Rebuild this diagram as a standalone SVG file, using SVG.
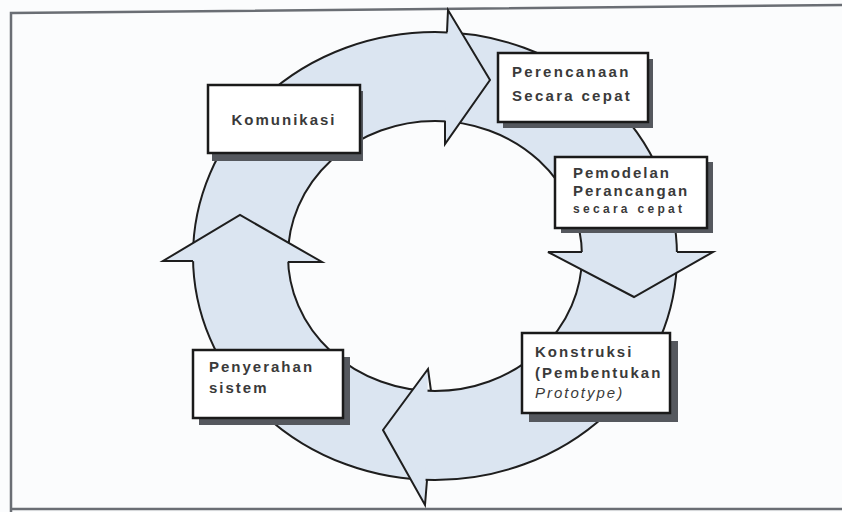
<svg xmlns="http://www.w3.org/2000/svg" width="842" height="512" viewBox="0 0 842 512">
<defs>
<style>
.bg{fill:#fbfcfd}
.frame{fill:none;stroke:#6a6e74;stroke-width:2.5}
.ring{fill:#dbe5f1;stroke:#1e1e1e;stroke-width:2;fill-rule:evenodd}
.head{fill:#dbe5f1;stroke:none}
.headline{fill:none;stroke:#1e1e1e;stroke-width:2;stroke-linejoin:miter}
.shadow{fill:#55585e}
.box{fill:#ffffff;stroke:#1a1a1a;stroke-width:2.5}
.t{font-family:"Liberation Sans",Arial,sans-serif;font-size:15px;font-weight:bold;fill:#3a3a3a;letter-spacing:2px}
.s{font-size:12px;letter-spacing:3.3px}
.i{font-style:italic;font-weight:normal}
</style>
</defs>
<rect class="bg" x="0" y="0" width="842" height="512"/>
<path class="frame" d="M11,512 L11,13 L842,5 M11,509 L842,509"/>
<g id="connectors">
<path class="ring" d="M193,256 A242,224 0 1 0 677,256 A242,224 0 1 0 193,256 Z M288,256 A147,135 0 1 0 582,256 A147,135 0 1 0 288,256 Z"/>
<polygon class="head" points="448,10 490,80 445,144"/>
<polyline class="headline" points="447,32 448,10 490,80 445,144 445,121"/>
<polygon class="head" points="548,252 634,297 713,252"/>
<polyline class="headline" points="582,252 548,252 634,297 713,252 677,252"/>
<polygon class="head" points="428,369 383,430 425,505"/>
<polyline class="headline" points="431,391 428,369 383,430 425,505 427,480"/>
<polygon class="head" points="163,261 240,215 322,262"/>
<polyline class="headline" points="193,261 163,261 240,215 322,262 288,262"/>
</g>
<g id="komunikasi">
<rect class="shadow" x="212" y="91" width="151" height="70"/>
<rect class="box" x="208" y="85" width="152" height="68"/>
<text class="t" x="284" y="125" text-anchor="middle">Komunikasi</text>
</g>
<g id="perencanaan">
<rect class="shadow" x="503" y="59" width="150" height="69"/>
<rect class="box" x="498" y="53" width="150" height="69"/>
<text class="t" x="512" y="77" style="letter-spacing:2.3px">Perencanaan</text>
<text class="t" x="512" y="101" style="letter-spacing:2.3px">Secara cepat</text>
</g>
<g id="pemodelan">
<rect class="shadow" x="561" y="162" width="152" height="71"/>
<rect class="box" x="555" y="157" width="152" height="71"/>
<text class="t" x="573" y="178">Pemodelan</text>
<text class="t" x="573" y="196">Perancangan</text>
<text class="t s" x="573" y="213">secara cepat</text>
</g>
<g id="konstruksi">
<rect class="shadow" x="529" y="341" width="149" height="81"/>
<rect class="box" x="522" y="333" width="148" height="80"/>
<text class="t" x="535" y="357">Konstruksi</text>
<text class="t" x="535" y="378">(Pembentukan</text>
<text class="t i" x="535" y="398">Prototype)</text>
</g>
<g id="penyerahan">
<rect class="shadow" x="199" y="357" width="151" height="68"/>
<rect class="box" x="193" y="350" width="150" height="68"/>
<text class="t" x="209" y="372">Penyerahan</text>
<text class="t" x="209" y="393">sistem</text>
</g>
</svg>
